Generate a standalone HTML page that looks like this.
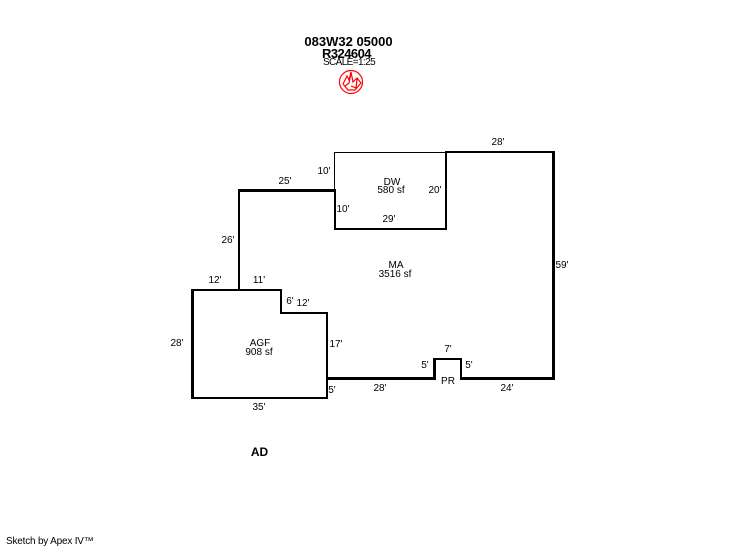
<!DOCTYPE html>
<html>
<head>
<meta charset="utf-8">
<style>
html,body{margin:0;padding:0;background:#fff}
svg{display:block}
text{font-family:"Liberation Sans",Arial,sans-serif;font-size:10px;fill:#000;text-anchor:middle}
.b{font-weight:bold;font-size:13px}
</style>
</head>
<body>
<svg width="746" height="547" viewBox="0 0 746 547" xmlns="http://www.w3.org/2000/svg">
<rect width="746" height="547" fill="#fff"/>
<g fill="#000" shape-rendering="crispEdges">
<rect x="334" y="152" width="112" height="1"/>
<rect x="334" y="152" width="1" height="38"/>
<rect x="334" y="189" width="2" height="41"/>
<rect x="334" y="228" width="113" height="2"/>
<rect x="445" y="151" width="2" height="79"/>
<rect x="445" y="151" width="110" height="2"/>
<rect x="552" y="151" width="3" height="229"/>
<rect x="460" y="377" width="95" height="3"/>
<rect x="460" y="358" width="2" height="22"/>
<rect x="433" y="358" width="29" height="2"/>
<rect x="433" y="358" width="3" height="22"/>
<rect x="326" y="377" width="110" height="3"/>
<rect x="238" y="189" width="98" height="3"/>
<rect x="238" y="189" width="2" height="102"/>
<rect x="191" y="289" width="91" height="2"/>
<rect x="280" y="289" width="2" height="25"/>
<rect x="280" y="312" width="48" height="2"/>
<rect x="326" y="312" width="2" height="87"/>
<rect x="191" y="397" width="137" height="2"/>
<rect x="191" y="289" width="3" height="110"/>
</g>

<text class="b" x="348.5" y="46">083W32 05000</text>
<text class="b" x="346.5" y="58" style="letter-spacing:-.55px">R324604</text>
<text x="349" y="65" style="letter-spacing:-.6px">SCALE=1:25</text>

<g fill="none" stroke="#f00" stroke-width="1.2">
<circle cx="351" cy="82" r="11.5"/>
<path d="M343 84 L347 76 L349 80 L351 72 L353 82 L357 78 L361 83 L355 90 L348 90 L343 84 M351 73 L349 83 L345 86 M357 79 L356 88 L351 86"/>
</g>

<text x="285" y="184">25'</text>
<text x="324" y="174">10'</text>
<text x="392" y="185">DW</text>
<text x="391" y="193">580 sf</text>
<text x="435" y="193">20'</text>
<text x="343" y="212">10'</text>
<text x="389" y="222">29'</text>
<text x="498" y="145">28'</text>
<text x="228" y="243">26'</text>
<text x="396" y="268">MA</text>
<text x="395" y="277">3516 sf</text>
<text x="562" y="268">59'</text>
<text x="215" y="283">12'</text>
<text x="259" y="283">11'</text>
<text x="290" y="304">6'</text>
<text x="303" y="306">12'</text>
<text x="260" y="346">AGF</text>
<text x="259" y="355">908 sf</text>
<text x="177" y="346">28'</text>
<text x="336" y="347">17'</text>
<text x="332" y="393">5'</text>
<text x="380" y="391">28'</text>
<text x="259" y="410">35'</text>
<text x="425" y="368">5'</text>
<text x="448" y="352">7'</text>
<text x="469" y="368">5'</text>
<text x="448" y="384">PR</text>
<text x="507" y="391">24'</text>
<text class="b" x="259.5" y="456" style="font-size:12px">AD</text>
<text x="6" y="544" style="text-anchor:start;letter-spacing:-.2px">Sketch by Apex IV™</text>
</svg>
</body>
</html>
